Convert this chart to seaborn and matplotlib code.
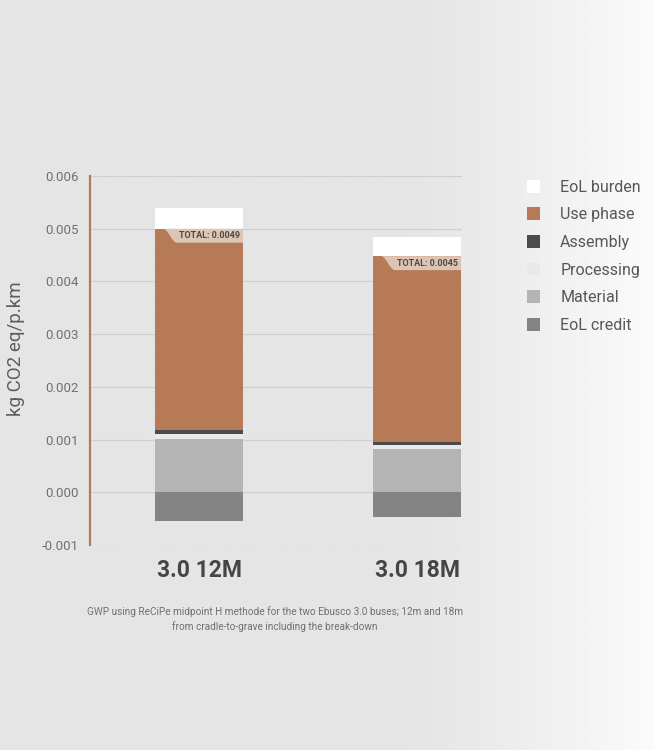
import numpy as np
import pandas as pd
import matplotlib
matplotlib.use("Agg")
import matplotlib.pyplot as plt
import matplotlib.patches as mpatches
import seaborn as sns

# ---- data ----
buses = ["3.0 12M", "3.0 18M"]
eol_credit = [-0.00055, -0.00047]
material = [0.00102, 0.00083]
processing = [0.00008, 0.00006]
assembly = [0.00009, 0.00006]
use_phase = [0.00381, 0.00353]
eol_burden = [0.00039, 0.00036]
totals = ["TOTAL: 0.0049", "TOTAL: 0.0045"]

components = ["Material", "Processing", "Assembly", "Use phase", "EoL burden"]
comp_values = [material, processing, assembly, use_phase, eol_burden]
colors = {
    "EoL burden": "#ffffff",
    "Use phase": "#b67a57",
    "Assembly": "#4b4b4d",
    "Processing": "#e9e9ea",
    "Material": "#b4b4b5",
    "EoL credit": "#838384",
}

sns.set_theme(style="white")
plt.rcParams["font.family"] = ["Roboto", "DejaVu Sans"]

fig = plt.figure(figsize=(6.55, 7.5), dpi=100)

# background gradient
bg = fig.add_axes([0, 0, 1, 1], zorder=-10)
xs = np.linspace(0, 1, 400)
grad = np.clip((xs - 0.62) / 0.38, 0, 1) ** 1.3
row = 0.898 + (0.985 - 0.898) * grad
img = np.tile(row, (50, 1))
bg.imshow(img, cmap="gray", vmin=0, vmax=1, aspect="auto", extent=[0, 1, 0, 1])
bg.set_axis_off()

ax = fig.add_axes([0.1374, 0.2733, 0.5679, 0.492])
ax.set_facecolor((0, 0, 0, 0))

# cumulative positive stacks
cum = np.cumsum(np.array(comp_values), axis=0)
rows = []
for ci, comp in enumerate(components):
    for bi, b in enumerate(buses):
        rows.append({"bus": b, "component": comp, "top": cum[ci, bi]})
df = pd.DataFrame(rows)

width = 0.404
for ci in range(len(components) - 1, -1, -1):
    comp = components[ci]
    sub = df[df["component"] == comp]
    sns.barplot(data=sub, x="bus", y="top", color=colors[comp], width=width,
                saturation=1, ax=ax, linewidth=0, zorder=3, errorbar=None)

cdf = pd.DataFrame({"bus": buses, "credit": eol_credit})
sns.barplot(data=cdf, x="bus", y="credit", color=colors["EoL credit"], width=width,
            saturation=1, ax=ax, linewidth=0, zorder=3, errorbar=None)

# decorative total label band with curved edge
band_h = 0.000265
for bi in range(len(buses)):
    use_top = cum[3, bi]
    left = bi - width / 2
    right = bi + width / 2
    x0 = left + 0.09 * width
    x1 = left + 0.25 * width
    t = np.linspace(0, 1, 40)
    cx = x0 + (x1 - x0) * t
    cy = use_top - band_h * (0.5 - 0.5 * np.cos(np.pi * t))
    px = np.concatenate([[x0], cx, [right, right]])
    py = np.concatenate([[use_top], cy, [use_top - band_h, use_top]])
    ax.fill(px, py, color="#ddc5b5", zorder=4, linewidth=0)
    ax.text(right - 0.012, use_top - band_h / 2, totals[bi], ha="right", va="center",
            fontsize=6.5, fontweight="bold", color="#4a4a4a", zorder=5)

ax.set_ylim(-0.001, 0.006)
ax.set_xlim(-0.5, 1.206)
ax.set_yticks(np.arange(-0.001, 0.0061, 0.001))
ax.set_yticklabels(["-0.001", "0.000", "0.001", "0.002", "0.003", "0.004", "0.005", "0.006"])
ax.yaxis.grid(True, color="#cfcfd0", linewidth=0.9, zorder=0)
ax.set_axisbelow(True)
ax.tick_params(axis="y", labelsize=9.5, labelcolor="#707070", length=0, pad=8)
ax.tick_params(axis="x", labelsize=16.5, labelcolor="#454545", length=0, pad=10)
for lab in ax.get_xticklabels():
    lab.set_fontweight("bold")
for s in ["top", "right", "bottom"]:
    ax.spines[s].set_visible(False)
ax.spines["left"].set_color("#b67a57")
ax.spines["left"].set_linewidth(1.6)
ax.set_xlabel("")
ax.set_ylabel("")
fig.text(16 / 655, 1 - 349 / 750, "kg CO2 eq/p.km", rotation=90, ha="center", va="center",
         fontsize=13.5, color="#5c5c5c")

# legend
leg_order = ["EoL burden", "Use phase", "Assembly", "Processing", "Material", "EoL credit"]
handles = [mpatches.Patch(facecolor=colors[k], edgecolor="none", label=k) for k in leg_order]
leg = fig.legend(handles=handles, loc="upper left", bbox_to_anchor=(0.782, 0.7795),
                 frameon=False, prop={"size": 11.5}, labelcolor="#575757",
                 handlelength=0.85, handleheight=0.85, handletextpad=1.25,
                 labelspacing=0.79)

fig.text(0.42, 1 - 619 / 750, "GWP using ReCiPe midpoint H methode for the two Ebusco 3.0 buses; 12m and 18m\n"
         "from cradle-to-grave including the break-down", ha="center", va="center",
         fontsize=7.2, color="#707070", linespacing=1.45)

fig.savefig("out.png", dpi=100)
